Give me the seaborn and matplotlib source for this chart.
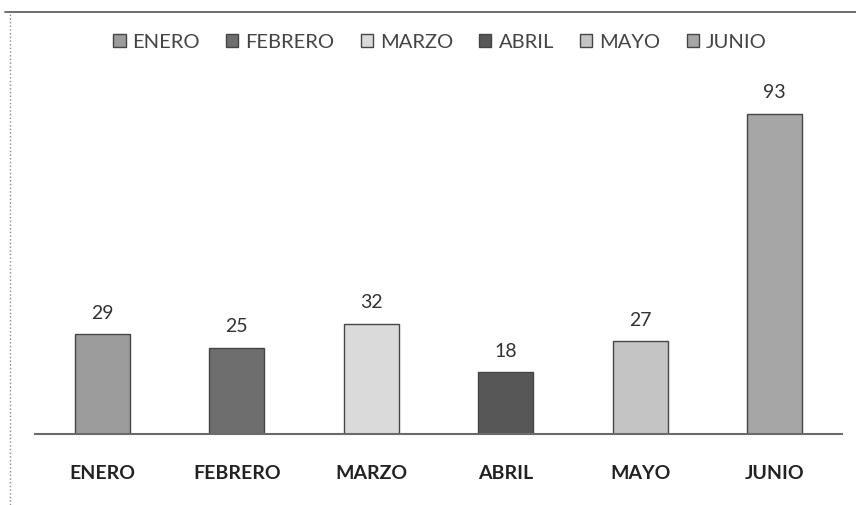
import matplotlib
matplotlib.use('Agg')
import matplotlib.pyplot as plt
import seaborn as sns
import pandas as pd
from matplotlib.lines import Line2D

meses = ['ENERO', 'FEBRERO', 'MARZO', 'ABRIL', 'MAYO', 'JUNIO']
valores = [29, 25, 32, 18, 27, 93]
colores = ['#9c9c9c', '#6e6e6e', '#dadada', '#575757', '#c4c4c4', '#a6a6a6']

df = pd.DataFrame({'mes': meses, 'valor': valores})

sns.set_style('white')
plt.rcParams['font.family'] = ['Lato', 'DejaVu Sans']

fig = plt.figure(figsize=(8.56, 5.05), dpi=100)
ax = fig.add_axes([35 / 856, 71 / 505, 807 / 856, 354 / 505])

sns.barplot(data=df, x='mes', y='valor', hue='mes', palette=colores,
            width=0.41, edgecolor='#454545', linewidth=1.0, dodge=False,
            legend=True, ax=ax)

ax.set_ylim(0, 93 * 354 / 320)
ax.set_xlim(-0.5, len(meses) - 0.5)

# etiquetas de valor
for cont in ax.containers:
    ax.bar_label(cont, padding=9, fontsize=14, color='#333333')

ax.set_xlabel('')
ax.set_ylabel('')
ax.set_yticks([])
ax.tick_params(axis='x', length=0, pad=22, labelsize=14, labelcolor='#222222')
for lbl in ax.get_xticklabels():
    lbl.set_fontweight('bold')

for s in ['top', 'right', 'left']:
    ax.spines[s].set_visible(False)
ax.spines['bottom'].set_color('#6a6a6a')
ax.spines['bottom'].set_linewidth(1.5)

sns.move_legend(ax, 'center', bbox_to_anchor=(440 / 856, 463 / 505),
                bbox_transform=fig.transFigure, ncol=6, frameon=False,
                title=None, fontsize=14.5, handlelength=0.6, handleheight=0.6,
                handletextpad=0.35, columnspacing=1.3)
for t in ax.get_legend().get_texts():
    t.set_color('#444444')

# borde del gráfico
fig.add_artist(Line2D([5 / 856, 1], [493 / 505, 493 / 505], color='#555555', lw=1.2))
fig.add_artist(Line2D([10 / 856, 10 / 856], [0, 493 / 505], color='#888888', lw=1.0, ls=':'))

fig.savefig('out.png', dpi=100)
